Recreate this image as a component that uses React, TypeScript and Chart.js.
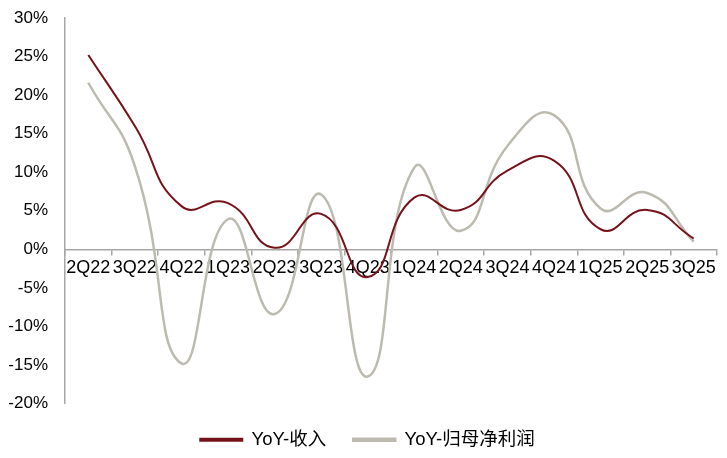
import React, { useEffect, useRef } from "react";
import { Chart, registerables } from "chart.js";

Chart.register(...registerables);

const categories = ["2Q22", "3Q22", "4Q22", "1Q23", "2Q23", "3Q23", "4Q23", "1Q24", "2Q24", "3Q24", "4Q24", "1Q25", "2Q25", "3Q25"];
const revenueYoY = [25.2, 16.0, 5.6, 6.0, 0.2, 4.6, -3.6, 6.7, 5.1, 10.2, 11.5, 2.6, 5.1, 1.4];
const profitYoY = [21.6, 10.8, -14.8, 3.9, -8.4, 7.1, -16.5, 10.6, 2.4, 13.4, 17.4, 5.3, 7.3, 1.0];
const yTicks = [30, 25, 20, 15, 10, 5, 0, -5, -10, -15, -20];

const RED = "#76121A";
const GRAY = "#BDBBAF";
const AXIS = "#A6A6A6";
const FONT = "'Liberation Sans', Arial, 'Noto Sans CJK SC', sans-serif";

export default function App() {
  const ref = useRef<HTMLCanvasElement | null>(null);
  useEffect(() => {
    if (!ref.current) return;
    const chart = new Chart(ref.current, {
      type: "line",
      data: {
        labels: categories,
        datasets: [
          {
            label: "YoY-收入",
            data: revenueYoY,
            borderColor: RED,
            backgroundColor: RED,
            borderWidth: 2,
            pointRadius: 0,
            tension: 0.5,
            yAxisID: "y",
          },
          {
            label: "YoY-归母净利润",
            data: profitYoY,
            borderColor: GRAY,
            backgroundColor: GRAY,
            borderWidth: 2.5,
            pointRadius: 0,
            tension: 0.5,
            yAxisID: "y",
          },
        ],
      },
      options: {
        animation: false,
        responsive: false,
        layout: { padding: { left: 8, right: 0, top: 18, bottom: -1 } },
        plugins: {
          tooltip: { enabled: false },
          legend: {
            position: "bottom",
            labels: {
              boxWidth: 42,
              boxHeight: 2,
              padding: 27,
              color: "#000",
              font: { family: FONT, size: 18.5 },
            },
          },
        },
        scales: {
          x: {
            type: "category",
            offset: true,
            position: { y: 0 } as any,
            afterFit: (scale: any) => {
              scale.paddingTop = 0;
              scale.paddingBottom = 0;
            },
            grid: {
              display: true,
              offset: true,
              drawOnChartArea: false,
              drawTicks: true,
              tickLength: 5,
              color: AXIS,
              lineWidth: 1.5,
            },
            border: { display: true, color: AXIS, width: 1.5 },
            ticks: {
              color: "#000",
              font: { family: FONT, size: 18 },
              padding: 3,
              maxRotation: 0,
              autoSkip: false,
            },
          },
          y: {
            min: -20,
            max: 30,
            afterBuildTicks: (scale: any) => {
              scale.ticks = yTicks.map((v) => ({ value: v }));
            },
            afterFit: (scale: any) => {
              scale.width = 57;
              scale.paddingTop = 0;
              scale.paddingBottom = 0;
            },
            grid: { display: false, drawTicks: false },
            border: { display: true, color: AXIS, width: 1.5 },
            ticks: {
              color: "#000",
              font: { family: FONT, size: 17 },
              padding: 17,
              callback: (v: any) => `${v}%`,
            },
          },
          yRightGap: {
            type: "linear",
            position: "right",
            min: -20,
            max: 30,
            afterFit: (scale: any) => {
              scale.width = 10;
              scale.paddingTop = 0;
              scale.paddingBottom = 0;
            },
            grid: { display: false, drawTicks: false },
            border: { display: false },
            ticks: { display: false },
          },
        },
      },
    });
    return () => chart.destroy();
  }, []);
  return (
    <div style={{ position: "fixed", left: 0, top: 0, width: 727, height: 458, background: "#fff" }}>
      <canvas ref={ref} width={727} height={458} style={{ width: 727, height: 458 }} />
    </div>
  );
}
